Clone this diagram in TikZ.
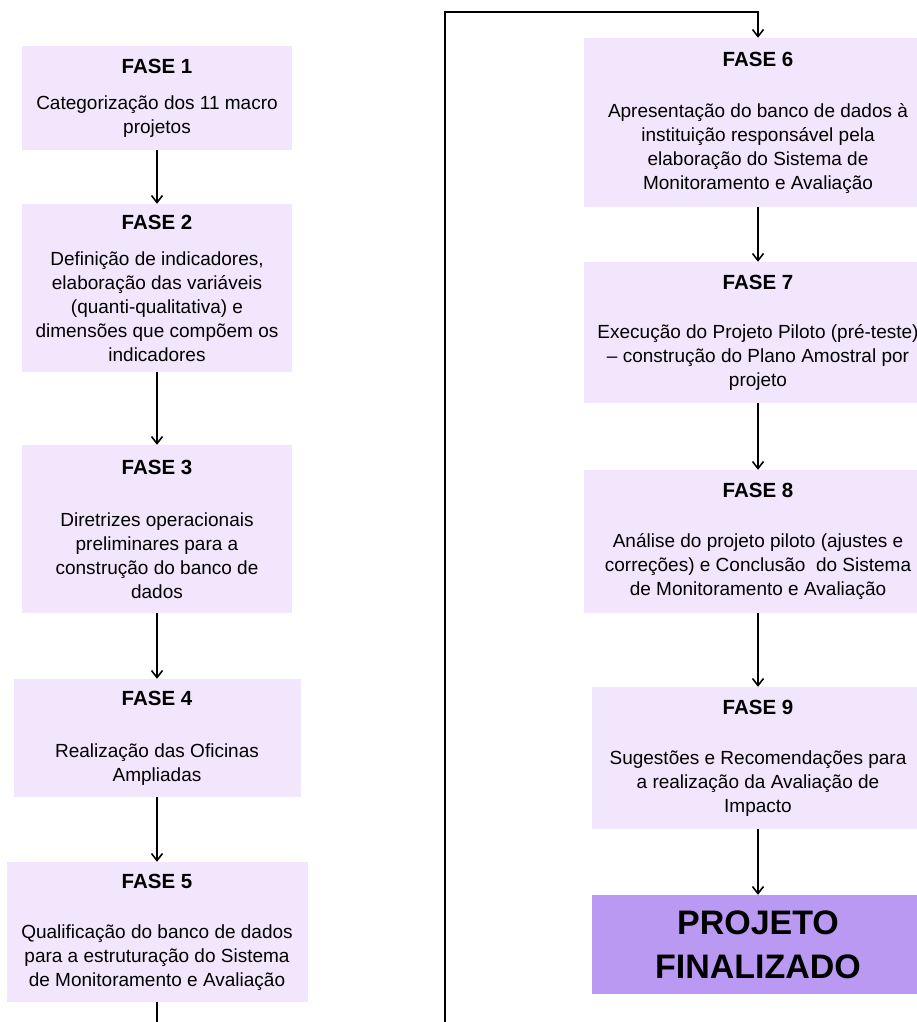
\documentclass[tikz,border=0pt]{standalone}
\usepackage{fontspec}
\setmainfont{Liberation Sans}
\usetikzlibrary{arrows.meta}
\definecolor{lilasclaro}{RGB}{242,230,252}
\definecolor{lilas}{RGB}{185,153,242}
\newcommand{\titulo}[1]{{\fontsize{20.5}{24}\selectfont\bfseries FASE #1}}

\begin{document}
\begin{tikzpicture}[x=1pt, y=-1pt,
    fase/.style={fill=lilasclaro, inner sep=0pt, align=center, font=\fontsize{19}{24}\selectfont},
    fim/.style={fill=lilas, inner sep=0pt, align=center, font=\fontsize{34}{44}\selectfont\bfseries},
    seta/.style={line width=1.6pt, -{Straight Barb[length=7pt, width=11pt]}}]
    \useasboundingbox (0,0) rectangle (917,1022);
    \clip (0,0) rectangle (917,1022);

    % Left column
    \node[fase, minimum width=270pt, minimum height=104pt] (f1) at (157,98)
        {\titulo{1}\\[12pt]Categorização dos 11 macro\\projetos};
    \node[fase, minimum width=270pt, minimum height=168pt] (f2) at (157,288)
        {\titulo{2}\\[12pt]Definição de indicadores,\\elaboração das variáveis\\(quanti-qualitativa) e\\dimensões que compõem os\\indicadores};
    \node[fase, minimum width=270pt, minimum height=168pt] (f3) at (157,529)
        {\titulo{3}\\[28pt]Diretrizes operacionais\\preliminares para a\\construção do banco de\\dados};
    \node[fase, minimum width=287pt, minimum height=118pt] (f4) at (157,738)
        {\titulo{4}\\[28pt]Realização das Oficinas\\Ampliadas};
    \node[fase, minimum width=301pt, minimum height=140pt] (f5) at (157,932)
        {\titulo{5}\\[26pt]Qualificação do banco de dados\\para a estruturação do Sistema\\de Monitoramento e Avaliação};

    % Right column
    \node[fase, minimum width=348pt, minimum height=169pt] (f6) at (758,122.5)
        {\titulo{6}\\[27pt]Apresentação do banco de dados à\\instituição responsável pela\\elaboração do Sistema de\\Monitoramento e Avaliação};
    \node[fase, minimum width=348pt, minimum height=141pt] (f7) at (758,332.5)
        {\titulo{7}\\[25pt]Execução do Projeto Piloto (pré-teste)\\– construção do Plano Amostral por\\projeto};
    \node[fase, minimum width=348pt, minimum height=143pt] (f8) at (758,541.5)
        {\titulo{8}\\[26pt]Análise do projeto piloto (ajustes e\\correções) e Conclusão\ \ do Sistema\\de Monitoramento e Avaliação};
    \node[fase, minimum width=332pt, minimum height=142pt] (f9) at (758,758)
        {\titulo{9}\\[26pt]Sugestões e Recomendações para\\a realização da Avaliação de\\Impacto};
    \node[fim, minimum width=332pt, minimum height=99pt] (fim) at (758,944.5)
        {PROJETO\\FINALIZADO};

    % Connectors
    \draw[seta] (f1) -- (f2);
    \draw[seta] (f2) -- (f3);
    \draw[seta] (f3) -- (f4);
    \draw[seta] (f4) -- (f5);
    \coordinate (baixo) at (157,1040);
    \coordinate (desvio) at (445,1040);
    \coordinate (topo) at (445,12);
    \coordinate (topo6) at (758,12);
    \draw[seta] (f5) -- (baixo) -- (desvio) -- (topo) -- (topo6) -- (f6);
    \draw[seta] (f6) -- (f7);
    \draw[seta] (f7) -- (f8);
    \draw[seta] (f8) -- (f9);
    \draw[seta] (f9) -- (fim);
\end{tikzpicture}
\end{document}
